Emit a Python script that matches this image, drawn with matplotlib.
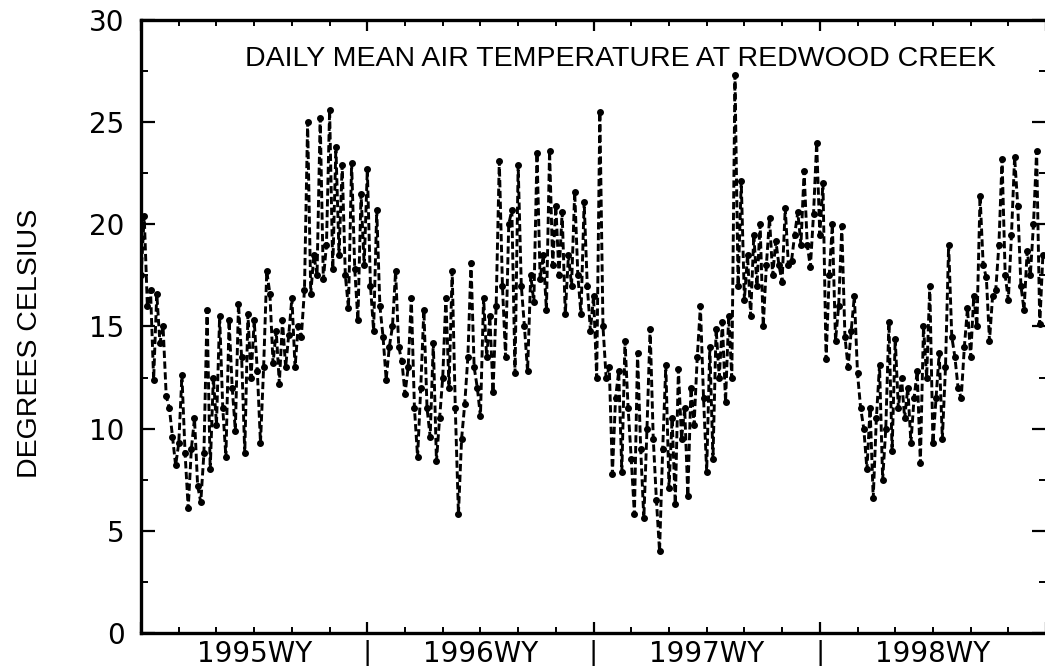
import numpy as np
import matplotlib
matplotlib.use("Agg")
import matplotlib.pyplot as plt
from matplotlib.ticker import MultipleLocator

plt.rcParams["font.family"] = ["Liberation Sans", "DejaVu Sans"]

TITULO = "DAILY MEAN AIR TEMPERATURE AT REDWOOD CREEK"
ROTULO_Y = "DEGREES CELSIUS"
ANOS = ["1995WY", "1996WY", "1997WY", "1998WY"]

# temperatura media (graus C), ~5 dias por ponto, ano hidrologico out-set
wy1995 = [17.5, 20.4, 16.0, 16.8, 12.4, 16.6, 14.2, 15.0, 11.6, 11.0, 9.6, 8.2,
          9.3, 12.6, 8.8, 6.1, 9.0, 10.5, 7.2, 6.4, 8.8, 15.8, 8.0, 12.5,
          10.2, 15.5, 11.0, 8.6, 15.3, 12.0, 9.9, 16.1, 13.5, 8.8, 15.6, 12.5,
          15.3, 12.8, 9.3, 13.0, 17.7, 16.6, 13.2, 14.8, 12.2, 15.3, 13.0, 14.6,
          16.4, 13.0, 15.0, 14.5, 16.8, 25.0, 16.6, 18.5, 17.5, 25.2, 17.3, 19.0,
          25.6, 17.8, 23.8, 18.5, 22.9, 17.5, 15.9, 23.0, 17.8, 15.3, 21.5, 18.0]
wy1996 = [22.7, 17.0, 14.8, 20.7, 16.0, 14.5, 12.4, 14.0, 15.0, 17.7, 14.0, 13.3,
          11.7, 13.0, 16.4, 11.0, 8.6, 12.0, 15.8, 11.0, 9.6, 14.2, 8.4, 10.5,
          12.5, 16.4, 12.0, 17.7, 11.0, 5.8, 9.5, 11.2, 13.5, 18.1, 13.0, 12.0,
          10.6, 16.4, 13.5, 15.5, 11.8, 16.0, 23.1, 17.0, 13.5, 20.0, 20.7, 12.7,
          22.9, 17.0, 15.0, 12.8, 17.5, 16.2, 23.5, 17.3, 18.5, 15.8, 23.6, 18.0,
          20.9, 17.5, 20.6, 15.6, 18.5, 17.0, 21.6, 17.5, 15.6, 21.1, 17.0, 14.8]
wy1997 = [16.5, 12.5, 25.5, 15.0, 12.5, 13.0, 7.8, 11.5, 12.8, 7.9, 14.3, 11.0,
          8.5, 5.8, 13.7, 9.0, 5.6, 10.0, 14.9, 9.5, 6.5, 4.0, 9.0, 13.1,
          7.1, 10.5, 6.3, 12.9, 9.5, 11.0, 6.7, 12.0, 10.2, 13.5, 16.0, 11.5,
          7.9, 14.0, 8.5, 14.9, 12.5, 15.2, 11.3, 15.5, 12.5, 27.3, 17.0, 22.1,
          16.3, 18.5, 15.5, 19.5, 17.0, 20.0, 15.0, 18.0, 20.3, 17.5, 19.2, 18.0,
          17.2, 20.8, 18.0, 18.2, 19.5, 20.6, 19.0, 22.6, 19.0, 17.9, 20.5, 24.0]
wy1998 = [19.5, 22.0, 13.4, 17.5, 20.0, 14.3, 16.0, 19.9, 14.5, 13.0, 14.8, 16.5,
          12.7, 11.0, 10.0, 8.0, 11.0, 6.6, 10.5, 13.1, 7.5, 10.0, 15.2, 8.9,
          14.4, 11.0, 12.5, 10.5, 12.0, 9.3, 11.5, 12.8, 8.3, 15.0, 12.5, 17.0,
          9.3, 11.5, 13.7, 9.5, 13.0, 19.0, 14.5, 13.5, 12.0, 11.5, 14.0, 15.9,
          13.5, 16.5, 15.0, 21.4, 18.0, 17.4, 14.3, 16.5, 16.8, 19.0, 23.2, 17.5,
          16.3, 19.5, 23.3, 20.9, 17.0, 15.8, 18.7, 17.5, 20.0, 23.6, 15.1, 18.5]


def montar_serie():
    anos = [wy1995, wy1996, wy1997, wy1998]
    xs, ys = [], []
    for k, vals in enumerate(anos):
        n = len(vals)
        xs.extend(k + np.arange(n) / n)
        ys.extend(vals)
    return np.array(xs), np.array(ys)


def gerar_grafico(x, y):
    fig = plt.figure(figsize=(10.45, 6.69), dpi=100)
    ax = fig.add_axes([0.135, 0.054, 0.866, 0.916])
    ax.plot(x, y, color="black", linestyle=(0, (2.5, 1.2)), linewidth=2.1,
            marker="o", markersize=4)
    ax.set_xlim(0, 4)
    ax.set_ylim(0, 30)

    for s in ax.spines.values():
        s.set_linewidth(2.4)

    ax.yaxis.set_major_locator(MultipleLocator(5))
    ax.yaxis.set_minor_locator(MultipleLocator(2.5))
    ax.tick_params(axis="y", which="major", direction="in", length=10, width=1.6,
                   labelsize=20, pad=12, right=True)
    ax.tick_params(axis="y", which="minor", direction="in", length=5, width=1.4,
                   right=True)
    for lb in ax.get_yticklabels():
        lb.set_family("DejaVu Sans")

    ax.xaxis.set_major_locator(MultipleLocator(1))
    ax.xaxis.set_minor_locator(MultipleLocator(1 / 6))
    ax.tick_params(axis="x", which="major", direction="in", length=8, width=1.6,
                   top=True, labelbottom=False)
    ax.tick_params(axis="x", which="minor", direction="in", length=4, width=1.4,
                   top=True)

    trans = ax.get_xaxis_transform()
    for k, nome in enumerate(ANOS):
        ax.text(k + 0.5, -0.012, nome, transform=trans, ha="center", va="top",
                fontsize=20, family="DejaVu Sans")
        if k > 0:
            ax.text(k, -0.012, "|", transform=trans, ha="center", va="top",
                    fontsize=20)

    ax.text(0.53, 0.937, TITULO, transform=ax.transAxes, ha="center",
            va="center", fontsize=20.5)
    fig.text(0.029, 0.487, ROTULO_Y, rotation=90, ha="center", va="center",
             fontsize=20.5)

    fig.savefig("out.png", dpi=100)
    plt.close(fig)


if __name__ == "__main__":
    x, y = montar_serie()
    gerar_grafico(x, y)
